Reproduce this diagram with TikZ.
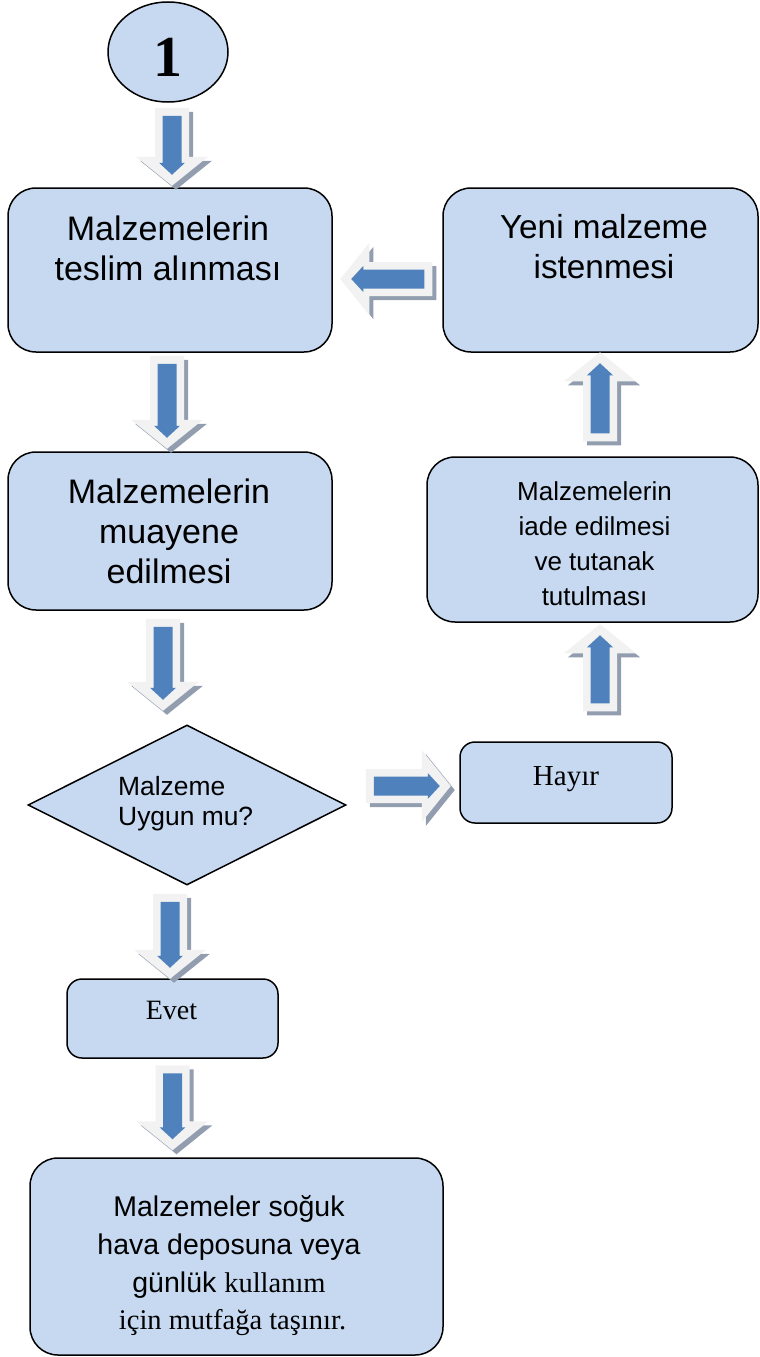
\documentclass[tikz,border=0pt]{standalone}
\usepackage{fontspec}
\setmainfont{Liberation Serif}
\setsansfont{Liberation Sans}
\usetikzlibrary{shapes.geometric,calc}
\definecolor{boxfill}{RGB}{198,217,241}
\definecolor{arrblue}{RGB}{79,129,189}
\definecolor{arrlight}{RGB}{242,242,242}
\definecolor{arrshadow}{RGB}{146,158,175}
\newcommand{\blockarrow}[3]{%
  \begin{scope}[shift={($(#1)+(4,4)$)},rotate=#2]
    \fill[arrshadow] (0,-17) -- ({#3-29},-17) -- ({#3-29},-36) -- (#3,0) -- ({#3-29},36) -- ({#3-29},17) -- (0,17) -- cycle;
  \end{scope}
  \begin{scope}[shift={(#1)},rotate=#2]
    \fill[arrlight] (0,-17) -- ({#3-29},-17) -- ({#3-29},-36) -- (#3,0) -- ({#3-29},36) -- ({#3-29},17) -- (0,17) -- cycle;
    \fill[arrblue] (8,-9.5) -- ({#3-23},-9.5) -- ({#3-23},-13) -- ({#3-11},0) -- ({#3-23},13) -- ({#3-23},9.5) -- (8,9.5) -- cycle;
  \end{scope}}
\begin{document}
\begin{tikzpicture}[x=1pt,y=-1pt,
  every node/.style={inner sep=0pt},
  box/.style={rectangle, draw=black, line width=1.5pt, fill=boxfill, rounded corners=28pt},
  smallbox/.style={box, rounded corners=15pt},
  bigtxt/.style={font=\sffamily\fontsize{34}{40}\selectfont, align=center},
  midtxt/.style={font=\sffamily\fontsize{26}{35}\selectfont, align=center},
  sertxt/.style={font=\rmfamily\fontsize{29}{34}\selectfont}]
\useasboundingbox (0,0) rectangle (760,1357);
% shapes
\node[ellipse, draw=black, line width=1.5pt, fill=boxfill, minimum width=120pt, minimum height=100pt] (c) at (168,52) {};
\node[font=\rmfamily\bfseries\fontsize{58}{60}\selectfont, anchor=base] (one) at (168,76) {1};
\node[box, minimum width=324pt, minimum height=164pt] (b1) at (170,270) {};
\node[box, minimum width=315pt, minimum height=164pt] (b2) at (600.5,270) {};
\node[box, minimum width=324pt, minimum height=158pt] (b3) at (170,531) {};
\node[box, minimum width=331pt, minimum height=165pt] (b4) at (592.5,539.5) {};
\node[diamond, draw=black, line width=1.5pt, fill=boxfill, minimum width=318pt, minimum height=160pt] (dia) at (187,805) {};
\node[smallbox, minimum width=212pt, minimum height=81pt] (hay) at (566,782.5) {};
\node[smallbox, minimum width=211pt, minimum height=79pt] (evet) at (172.5,1018.5) {};
\node[box, minimum width=413pt, minimum height=197pt] (fin) at (236.5,1256.5) {};
% texts
\node[bigtxt] (b1t) at (168,248) {Malzemelerin\\teslim alınması};
\node[bigtxt, font=\sffamily\fontsize{33.3}{40}\selectfont] (b2t) at (604,247) {Yeni malzeme\\istenmesi};
\node[bigtxt] (b3t) at (169,531) {Malzemelerin\\muayene\\edilmesi};
\node[midtxt] (b4t) at (594.5,544) {Malzemelerin\\iade edilmesi\\ve tutanak\\tutulması};
\node[font=\sffamily\fontsize{26.4}{30}\selectfont, align=left, anchor=west] (diat) at (118,804) {Malzeme\\Uygun mu?};
\node[sertxt, anchor=base] (hayt) at (566,785) {Hayır};
\node[sertxt, font=\rmfamily\fontsize{28}{34}\selectfont, anchor=base] (evett) at (171.5,1019) {Evet};
\node[font=\sffamily\fontsize{28.5}{37.7}\selectfont, align=center] (fint) at (229,1266) {Malzemeler soğuk\\hava deposuna veya\\günlük {\rmfamily kullanım}\\\hspace*{7pt}{\rmfamily için mutfağa taşınır.}};
% block arrow connectors
\coordinate (a1) at ($(c.south)+(4,5)$);
\coordinate (a2) at ($(b1.south)+(-3,3)$);
\coordinate (a3) at ($(b3.south)+(-7,8)$);
\coordinate (a4) at ($(dia.south)+(-17,8)$);
\coordinate (a5) at ($(evet.south)+(0,6.5)$);
\coordinate (a6) at ($(b2.west |- 0,279)+(-10,0)$);
\coordinate (a7) at ($(b4.north -| 600,0)+(0,-15)$);
\coordinate (a8) at ($(hay.north -| 600,0)+(0,-30)$);
\coordinate (a9) at ($(dia.east |- 0,786)+(19,0)$);
\blockarrow{a1}{-90}{78}
\blockarrow{a2}{-90}{93}
\blockarrow{a3}{-90}{92}
\blockarrow{a4}{-90}{85}
\blockarrow{a5}{-90}{85}
\blockarrow{a6}{180}{92}
\blockarrow{a7}{90}{89}
\blockarrow{a8}{90}{87}
\blockarrow{a9}{0}{85}
\end{tikzpicture}
\end{document}
